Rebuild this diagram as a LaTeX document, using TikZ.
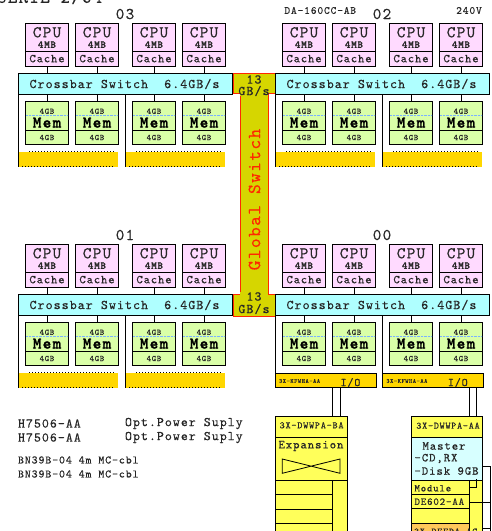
\documentclass[tikz,border=0pt]{standalone}
\usepackage{fontspec}
\setmainfont{lmmono10-regular}[Extension=.otf, LetterSpace=7.5, FakeBold=0.3, BoldFont=lmmonolt10-bold, BoldFeatures={FakeBold=1.2}]
\definecolor{cpuc}{RGB}{255,218,255}
\definecolor{xbarc}{RGB}{175,255,255}
\definecolor{memc}{RGB}{218,255,168}
\definecolor{goldc}{RGB}{255,215,0}
\definecolor{gswc}{RGB}{214,214,0}
\definecolor{gswr}{RGB}{255,40,0}
\definecolor{expc}{RGB}{255,255,90}
\definecolor{mastc}{RGB}{215,255,255}
\definecolor{orc}{RGB}{255,200,90}
\newcommand{\fsz}[1]{\fontsize{#1}{#1}\selectfont}
\tikzset{
  box/.style={draw=black, line width=0.8pt, inner sep=0pt, outer sep=0pt},
  cpubox/.style={box, fill=cpuc, minimum width=42.6pt, minimum height=42.7pt},
  membox/.style={box, fill=memc, minimum width=42.6pt, minimum height=42.6pt},
  xbarbox/.style={box, fill=xbarc, minimum width=214pt, minimum height=21pt},
  goldbar/.style={fill=goldc, draw=none, minimum width=98.7pt, minimum height=15pt, inner sep=0pt, outer sep=0pt},
  iobar/.style={box, fill=goldc, line width=0.6pt, minimum width=101pt, minimum height=14.4pt},
  conn/.style={draw=black, line width=0.8pt},
  txt/.style={inner sep=0pt, outer sep=0pt, text=black!85},
}
\newcommand{\quadrant}[5]{%
\begin{scope}[shift={(#1,#2)}, name prefix=#4-]
  \node[txt, font=\fsz{16.5}] (lbl) at (125,14) {#3};
  \node[xbarbox] (xbar) at (125.3,83.8) {};
  \node[txt, font=\fsz{13.4}] (xbartxt) at (124.5,84) {Crossbar Switch\ \ 6.4GB/s};
  \foreach \i/\x in {1/47,2/97,3/154,4/204} {
    \node[cpubox] (cpu\i) at (\x,44.65) {};
    \draw[line width=0.6pt] (\x-21.3,51.7) -- (\x+21.3,51.7);
    \node[txt, font=\fsz{16.5}] (cpuA\i) at (\x,32.3) {CPU};
    \node[txt, font=\fsz{10.5}\bfseries] (cpuB\i) at (\x,44.6) {4MB};
    \node[txt, font=\fsz{12}] (cpuC\i) at (\x,58.6) {Cache};
    \draw[conn] (cpu\i.south) -- (cpu\i.south |- xbar.north);
    \node[membox] (mem\i) at (\x,123) {};
    \draw[line width=0.6pt] (\x-21.3,130.7) -- (\x+21.3,130.7);
    \draw[xbarc!70!blue, densely dotted, line width=0.4pt] (\x-21,115.5) -- (\x+21,115.5);
    \node[txt, font=\fsz{8.5}] (memA\i) at (\x,111.3) {4GB};
    \node[txt, font=\fsz{16.5}\bfseries, text=black] (memB\i) at (\x,122.6) {Mem};
    \node[txt, font=\fsz{8.5}] (memC\i) at (\x,137.5) {4GB};
    \draw[conn] (xbar.south -| mem\i.north) -- (mem\i.north);
  }
  \coordinate (bl) at (18.3,166.7);
  \coordinate (bm) at (125.2,166.7);
  \draw[conn] (xbar.south west) -- (bl);
  \draw[conn] (xbar.south -| bm) -- (bm);
  \ifnum#5=0
    \node[goldbar] (bar1) at (68.35,159.2) {};
    \node[goldbar] (bar2) at (175.5,159.2) {};
    \foreach \b in {bar1,bar2} {
      \draw[black, line width=0.6pt, dash pattern=on 1pt off 2pt] ([xshift=10pt]\b.north west) -- ([xshift=-3pt]\b.north east);
      \draw[black, line width=0.6pt, dash pattern=on 1pt off 2pt] ([xshift=3pt]\b.south west) -- ([xshift=-3pt]\b.south east);
    }
  \else
    \node[iobar] (io1) at (68.5,159.5) {};
    \node[iobar] (io2) at (175.8,159.5) {};
    \foreach \b in {io1,io2} {
      \node[txt, font=\fsz{6.3}, anchor=west] at ([xshift=4pt,yshift=-0.5pt]\b.west) {3X-KFWHA-AA};
      \node[txt, font=\fsz{11.5}] at ([xshift=25pt,yshift=-2pt]\b.center) {I/O};
    }
  \fi
\end{scope}}
\begin{document}
\begin{tikzpicture}[x=1pt,y=-1pt]
\useasboundingbox (0,0) rectangle (491,531);
% title (clipped at top)
\node[txt, font=\fsz{18}, anchor=base west] (title) at (-3,2.8) {SERIE 2/64};
\node[txt, font=\fsz{11}] (da) at (320.3,10.5) {DA-160CC-AB};
\node[txt, font=\fsz{11}] (volt) at (469,10.5) {240V};
% global switch
\node[fill=gswc, draw=gswr, line width=0.7pt, minimum width=28.3pt, minimum height=201pt, inner sep=0pt, outer sep=0pt] (gbar) at (254.15,193.8) {};
\node[fill=gswc, draw=gswr, line width=0.7pt, minimum width=41.7pt, minimum height=20.5pt, inner sep=0pt, outer sep=0pt] (gtop) at (254.15,83.55) {};
\node[fill=gswc, draw=gswr, line width=0.7pt, minimum width=41.7pt, minimum height=22pt, inner sep=0pt, outer sep=0pt] (gbot) at (254.15,305) {};
\fill[gswc] (240.4,92) rectangle (267.9,96);
\fill[gswc] (240.4,292) rectangle (267.9,296);
\node[txt, font=\fsz{13.4}] (g13a) at (254,79.5) {13};
\node[txt, font=\fsz{13.4}] (ggba) at (254,91) {GB/s};
\node[txt, font=\fsz{13.4}] (g13b) at (254,296.5) {13};
\node[txt, font=\fsz{13.4}] (ggbb) at (254,309) {GB/s};
\node[txt, font=\fsz{18.5}, text=gswr, rotate=90] (gsw) at (254.5,199.5) {Global Switch};
% quadrants
\quadrant{0}{0}{03}{q3}{0}
\quadrant{257}{0}{02}{q2}{0}
\quadrant{0}{221}{01}{q1}{0}
\quadrant{257}{221}{00}{q0}{1}
% bottom-left texts
\node[txt, font=\fsz{13.3}, anchor=west] (h1) at (18,423.5) {H7506-AA};
\node[txt, font=\fsz{13.3}, anchor=west] (p1) at (125,423.5) {Opt.Power Suply};
\node[txt, font=\fsz{13.3}, anchor=west] (h2) at (18,437.5) {H7506-AA};
\node[txt, font=\fsz{13.3}, anchor=west] (p2) at (125,437.5) {Opt.Power Suply};
\node[txt, font=\fsz{11.4}, anchor=west] (c1) at (18,460) {BN39B-04 4m MC-cbl};
\node[txt, font=\fsz{11.4}, anchor=west] (c2) at (18,474) {BN39B-04 4m MC-cbl};
% expansion cabinet
\node[box, fill=expc, minimum width=72.3pt, minimum height=20.6pt] (dwba) at (311.15,427) {};
\node[txt, font=\fsz{9.8}] (dwbat) at (311.6,425.3) {3X-DWWPA-BA};
\node[box, fill=expc, minimum width=72.3pt, minimum height=43.4pt] (expn) at (311.15,459) {};
\node[txt, font=\fsz{12.2}, anchor=west] (expt) at (278.5,446) {Expansion};
\draw[line width=0.8pt] (282.3,459) -- (282.3,473.3) -- (340,459) -- (340,473.3) -- cycle;
\node[box, fill=expc, minimum width=72.3pt, minimum height=60pt, anchor=north west] (explow) at (275,480.7) {};
\draw[line width=0.8pt] (332.7,480.7) -- (332.7,545);
\foreach \yy in {494.3,509.3,523.3} \draw[line width=0.8pt] (275,\yy) -- (332.7,\yy);
\draw[conn] ([xshift=21.55pt]dwba.north) -- ([xshift=21.55pt]dwba.north |- q0-io1.south);
\draw[conn] ([xshift=28.85pt]dwba.north) -- ([xshift=28.85pt]dwba.north |- q0-io1.south);
% master cabinet
\node[box, fill=expc, minimum width=71pt, minimum height=21pt] (dwaa) at (447.2,427.2) {};
\node[txt, font=\fsz{9.7}] (dwaat) at (448,425.7) {3X-DWWPA-AA};
\node[box, fill=mastc, minimum width=71pt, minimum height=43pt] (mast) at (447.2,459.2) {};
\node[txt, font=\fsz{12.2}, anchor=west] (m1) at (422.5,446) {Master};
\node[txt, font=\fsz{12.2}, anchor=west] (m2) at (414.5,458.5) {-CD,RX};
\node[txt, font=\fsz{12.2}, anchor=west] (m3) at (414.5,471) {-Disk 9GB};
\node[box, fill=expc, minimum width=13.7pt, minimum height=60pt, anchor=north west] (mcol) at (469,480.7) {};
\node[box, fill=expc, minimum width=57.3pt, minimum height=13.3pt, anchor=north west] (modr) at (411.7,480.7) {};
\node[txt, font=\fsz{10.4}, anchor=west] (modt) at (414.5,488.3) {Module};
\node[box, fill=expc, minimum width=57.3pt, minimum height=14.3pt, anchor=north west] (der) at (411.7,494) {};
\node[txt, font=\fsz{10.5}, anchor=west] (det) at (414.5,501.7) {DE602-AA};
\node[box, fill=expc, minimum width=57.3pt, minimum height=15pt, anchor=north west] (emr) at (411.7,508.3) {};
\node[box, fill=orc, minimum width=57.3pt, minimum height=15pt, anchor=north west] (orr) at (411.7,523.3) {};
\node[txt, font=\fsz{9.7}, anchor=west] (ort) at (414,531.5) {3X-DEFPA-AC};
\draw[conn] ([xshift=21.8pt]dwaa.north) -- ([xshift=21.8pt]dwaa.north |- q0-io2.south);
\draw[conn] ([xshift=28.8pt]dwaa.north) -- ([xshift=28.8pt]dwaa.north |- q0-io2.south);
\coordinate (rv1) at (490.5,466.7);
\coordinate (rv2) at (490.5,535);
\draw[conn] (mast.east |- rv1) -- (rv1) -- (rv2);
\draw[conn] (mcol.west |- 0,502.7) -- (490.5,502.7);
\draw[conn] (mcol.east |- 0,528.3) -- (490.5,528.3);
\draw[conn] (476,479) -- (476,487.3) -- (469,487.3);
\end{tikzpicture}
\end{document}
